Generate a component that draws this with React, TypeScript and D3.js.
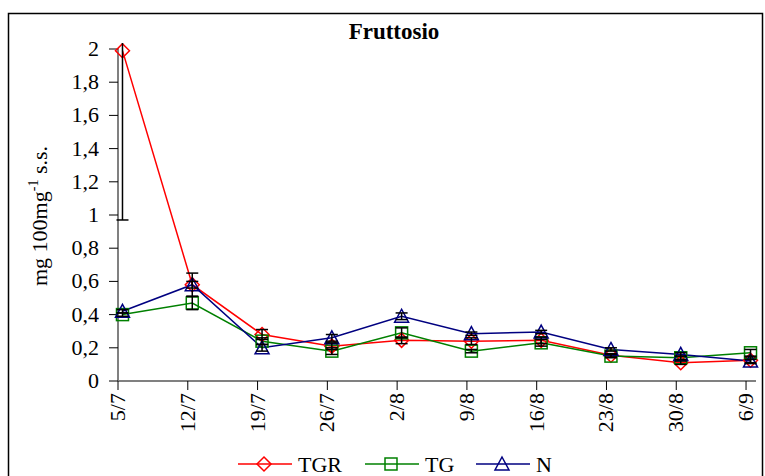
import React from "react";
import * as d3 from "d3";

// Sampling dates (weekly) shown on the x axis
const dates = ["5/7", "12/7", "19/7", "26/7", "2/8", "9/8", "16/8", "23/8", "30/8", "6/9"];

// Fructose content, mg 100mg-1 s.s.
const tgr = [1.99, 0.58, 0.28, 0.21, 0.245, 0.24, 0.245, 0.155, 0.11, 0.125];
const tg = [0.4, 0.47, 0.24, 0.18, 0.29, 0.18, 0.23, 0.15, 0.14, 0.17];
const n = [0.42, 0.58, 0.2, 0.26, 0.39, 0.285, 0.295, 0.19, 0.16, 0.12];

// Standard errors
const tgrErr = [1.02, 0.02, 0.03, 0.02, 0.02, 0.02, 0.02, 0.01, 0.01, 0.02];
const tgErr = [0.01, 0.04, 0.02, 0.02, 0.03, 0.01, 0.02, 0.01, 0.01, 0.02];
const nErr = [0.01, 0.07, 0.02, 0.02, 0.02, 0.01, 0.01, 0.01, 0.01, 0.01];

const yTicks = [0, 0.2, 0.4, 0.6, 0.8, 1, 1.2, 1.4, 1.6, 1.8, 2];

const seriesNames = ["TGR", "TG", "N"];

const W = 765;
const H = 476;
const font = '"Liberation Serif", "Times New Roman", Times, "DejaVu Serif", serif';

const x = d3.scaleLinear().domain([0, 64]).range([118, 756]);
const y = d3.scaleLinear().domain([0, 2]).range([381, 49]);
const plotTop = 43;
const dayOffset = 0.45;

const fmt = (v: number) => String(+v.toFixed(1)).replace(".", ",");

type Shape = "diamond" | "square" | "triangle";

function Marker({ cx, cy, shape, color }: { cx: number; cy: number; shape: Shape; color: string }) {
  const s = 6;
  if (shape === "diamond") {
    return (
      <path
        d={`M${cx},${cy - s - 1}L${cx + s + 1},${cy}L${cx},${cy + s + 1}L${cx - s - 1},${cy}Z`}
        fill="none"
        stroke={color}
        strokeWidth={1.5}
      />
    );
  }
  if (shape === "square") {
    return <rect x={cx - s} y={cy - s} width={2 * s} height={2 * s} fill="none" stroke={color} strokeWidth={1.5} />;
  }
  return (
    <path
      d={`M${cx},${cy - s - 1}L${cx + s + 1},${cy + s}L${cx - s - 1},${cy + s}Z`}
      fill="none"
      stroke={color}
      strokeWidth={1.5}
    />
  );
}

export default function App() {
  const series = [
    { name: seriesNames[0], values: tgr, err: tgrErr, color: "#FF0000", shape: "diamond" as Shape },
    { name: seriesNames[1], values: tg, err: tgErr, color: "#008000", shape: "square" as Shape },
    { name: seriesNames[2], values: n, err: nErr, color: "#000080", shape: "triangle" as Shape },
  ];
  const px = (i: number) => x(i * 7 + dayOffset);
  const line = d3
    .line<number>()
    .x((_, i) => px(i))
    .y((v) => y(v));

  const legendItems = [
    { lx: 238, tx: 298 },
    { lx: 365, tx: 425 },
    { lx: 476, tx: 536 },
  ];

  const txt = { fontFamily: font };

  return (
    <svg
      width={W}
      height={H}
      style={{ position: "absolute", left: 0, top: 0, background: "#fff", fontFamily: font }}
    >
      <defs>
        <clipPath id="plot">
          <rect x={100} y={plotTop} width={680} height={400} />
        </clipPath>
      </defs>
      <rect x={0} y={0} width={W} height={H} fill="#fff" />
      {/* chart frame */}
      <path d={`M8.5,${H + 2}V13.5H762.5V${H + 2}`} fill="none" stroke="#000" strokeWidth={1.5} />

      <text x={394} y={39} textAnchor="middle" fontWeight="bold" fontSize={23} style={txt}>
        Fruttosio
      </text>

      {/* y axis */}
      <line x1={118} x2={118} y1={y(2) - 1} y2={y(0)} stroke="#808080" strokeWidth={2} />
      {yTicks.map((t) => (
        <g key={t}>
          <line x1={109} x2={118} y1={y(t)} y2={y(t)} stroke="#000" strokeWidth={1} />
          <text x={99} y={y(t) + 7} textAnchor="end" fontSize={22} style={txt}>
            {fmt(t)}
          </text>
        </g>
      ))}

      {/* x axis */}
      <line x1={118} x2={756} y1={y(0)} y2={y(0)} stroke="#808080" strokeWidth={2} />
      {dates.map((d, i) => (
        <g key={d}>
          <line x1={x(i * 7)} x2={x(i * 7)} y1={y(0)} y2={y(0) + 9} stroke="#000" strokeWidth={1} />
          <text
            transform={`translate(${x(i * 7) + 7},393) rotate(-90)`}
            textAnchor="end"
            fontSize={22}
            style={txt}
          >
            {d}
          </text>
        </g>
      ))}

      {/* y axis title */}
      <text transform="translate(47,216) rotate(-90)" textAnchor="middle" fontSize={22} style={txt}>
        mg 100mg
        <tspan dy={-9} fontSize={14}>
          -1
        </tspan>
        <tspan dy={9}> s.s.</tspan>
      </text>

      <g clipPath="url(#plot)">
        {series.map((s) => (
          <path key={s.name} d={line(s.values) || ""} fill="none" stroke={s.color} strokeWidth={1.5} />
        ))}
        {series.map((s) =>
          s.values.map((v, i) => <Marker key={s.name + i} cx={px(i)} cy={y(v)} shape={s.shape} color={s.color} />)
        )}
        {series.map((s) =>
          s.values.map((v, i) => {
            const cx = px(i);
            const lo = y(v - s.err[i]);
            const hi = y(v + s.err[i]);
            return (
              <g key={"e" + s.name + i} stroke="#000" strokeWidth={1.5}>
                <line x1={cx} x2={cx} y1={lo} y2={hi} />
                <line x1={cx - 6} x2={cx + 6} y1={lo} y2={lo} />
                <line x1={cx - 6} x2={cx + 6} y1={hi} y2={hi} />
              </g>
            );
          })
        )}
      </g>

      {/* legend */}
      {series.map((s, i) => {
        const it = legendItems[i];
        const cy = 464;
        return (
          <g key={"l" + s.name}>
            <line x1={it.lx} x2={it.lx + 54} y1={cy} y2={cy} stroke={s.color} strokeWidth={1.5} />
            <Marker cx={it.lx + 26} cy={cy} shape={s.shape} color={s.color} />
            <text x={it.tx} y={cy + 8} fontSize={22} style={txt}>
              {s.name}
            </text>
          </g>
        );
      })}
    </svg>
  );
}
